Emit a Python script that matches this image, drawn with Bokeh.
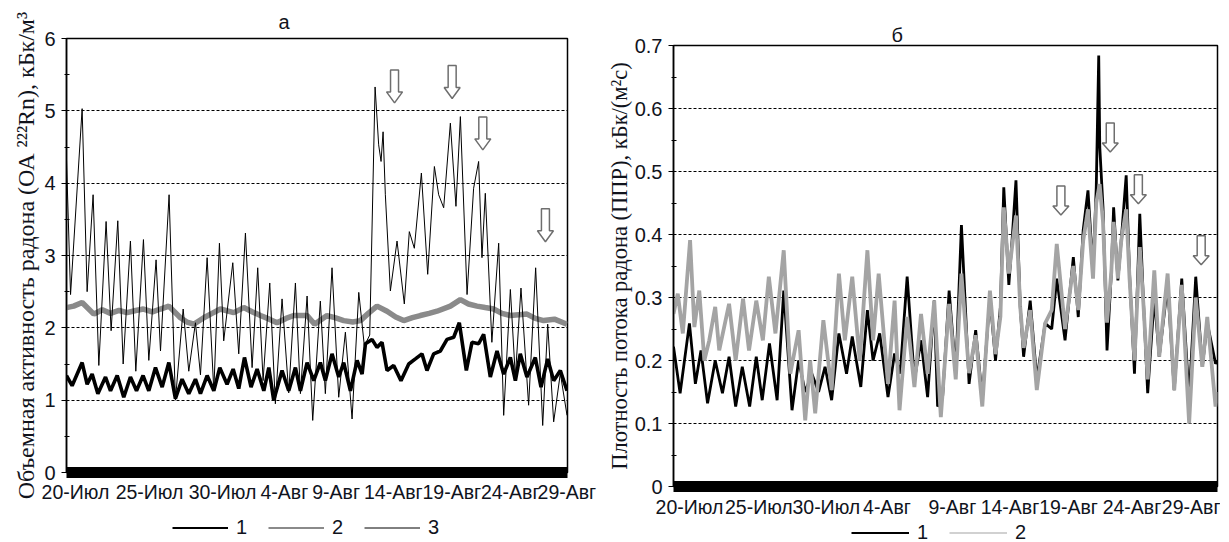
from bokeh.plotting import figure
from bokeh.layouts import row, column
from bokeh.models import FixedTicker, Legend, LegendItem, Title, Spacer
from bokeh.embed import file_html
from bokeh.resources import INLINE

# ---------------- data (days since 20 Jul) ----------------
DAY_LABELS = ["20-Июл", "25-Июл", "30-Июл", "4-Авг", "9-Авг", "14-Авг", "19-Авг", "24-Авг", "29-Авг"]
TICKS_A = [0.75, 6.96, 13.08, 18.27, 22.6, 27.4, 32.3, 37.2, 41.95]
TICKS_B = [1.23, 6.59, 11.8, 16.48, 21.53, 25.98, 30.5, 35.4, 40.08]

# panel а, series 1 (thick black)
A1 = [(0.0, 1.34), (0.47, 1.20), (1.31, 1.52), (1.73, 1.22), (2.15, 1.36), (2.63, 1.09), (3.27, 1.32),
      (3.69, 1.13), (4.25, 1.34), (4.80, 1.04), (5.36, 1.32), (5.87, 1.13), (6.42, 1.34), (6.90, 1.13),
      (7.46, 1.45), (8.02, 1.18), (8.58, 1.52), (9.13, 1.02), (9.69, 1.29), (10.25, 1.09), (10.81, 1.29),
      (11.23, 1.09), (11.79, 1.34), (12.35, 1.13), (12.85, 1.45), (13.46, 1.22), (13.97, 1.43),
      (14.44, 1.16), (14.92, 1.59), (15.47, 1.18), (15.98, 1.43), (16.54, 1.13), (16.96, 1.45),
      (17.37, 1.00), (18.07, 1.41), (18.63, 1.13), (19.19, 1.45), (19.61, 1.13), (20.17, 1.52),
      (20.73, 1.27), (21.28, 1.52), (21.70, 1.27), (22.26, 1.64), (22.82, 1.32), (23.24, 1.52),
      (23.80, 1.13), (24.36, 1.55), (24.78, 1.36), (25.06, 1.78), (25.61, 1.84), (26.03, 1.73),
      (26.45, 1.80), (26.87, 1.41), (27.43, 1.48), (28.04, 1.27), (28.69, 1.50), (29.25, 1.57),
      (29.80, 1.64), (30.22, 1.41), (30.78, 1.64), (31.34, 1.68), (31.90, 1.84), (32.46, 1.87),
      (32.93, 2.07), (33.52, 1.41), (33.99, 1.80), (34.55, 1.78), (34.97, 1.91), (35.53, 1.32),
      (36.09, 1.68), (36.65, 1.36), (37.21, 1.59), (37.63, 1.27), (38.04, 1.64), (38.60, 1.32),
      (39.30, 1.59), (39.78, 1.18), (40.34, 1.57), (40.84, 1.27), (41.40, 1.41), (41.96, 1.13)]

# panel а, series 2 (gray)
A2 = [(0.0, 2.28), (0.6, 2.30), (1.31, 2.35), (2.29, 2.19), (3.0, 2.25), (3.69, 2.20), (4.4, 2.24),
      (5.08, 2.21), (5.8, 2.24), (6.45, 2.26), (7.2, 2.22), (7.88, 2.26), (8.58, 2.30), (9.55, 2.14),
      (10.1, 2.08), (10.67, 2.05), (11.51, 2.14), (12.2, 2.20), (12.9, 2.26), (14.02, 2.21),
      (14.86, 2.28), (15.6, 2.22), (16.26, 2.17), (17.0, 2.12), (17.65, 2.07), (18.4, 2.13),
      (19.05, 2.17), (20.17, 2.17), (20.8, 2.05), (21.84, 2.17), (22.5, 2.14), (23.24, 2.10),
      (24.0, 2.08), (24.64, 2.10), (25.3, 2.20), (26.03, 2.30), (26.87, 2.23), (27.6, 2.15),
      (28.27, 2.10), (29.0, 2.14), (29.66, 2.17), (30.4, 2.20), (31.06, 2.23), (32.18, 2.30),
      (33.02, 2.39), (33.7, 2.33), (34.41, 2.30), (35.1, 2.28), (35.81, 2.26), (36.5, 2.20),
      (37.21, 2.17), (38.60, 2.19), (39.3, 2.13), (40.0, 2.10), (40.9, 2.12), (41.96, 2.05)]

# panel а, series 3 (thin black)
A3 = [(0.0, 4.32), (0.34, 2.46), (1.31, 5.03), (1.73, 2.50), (2.23, 3.84), (2.71, 1.48), (3.32, 3.47),
      (3.74, 1.96), (4.30, 3.48), (4.75, 1.50), (5.36, 3.20), (5.81, 1.40), (6.45, 3.22), (6.90, 1.55),
      (7.51, 2.94), (7.88, 1.68), (8.60, 3.84), (9.13, 1.00), (9.78, 2.26), (10.25, 1.40), (10.81, 2.07),
      (11.23, 1.35), (11.79, 2.97), (12.35, 1.13), (12.82, 3.17), (13.18, 1.82), (13.94, 2.90),
      (14.44, 1.64), (15.0, 3.31), (15.56, 1.45), (16.03, 2.83), (16.48, 1.27), (17.04, 2.62),
      (17.51, 0.95), (18.07, 2.40), (18.63, 1.10), (19.19, 2.62), (19.61, 1.09), (20.17, 2.44),
      (20.64, 0.72), (21.28, 2.37), (21.70, 1.09), (22.26, 2.83), (22.82, 1.04), (23.38, 1.94),
      (23.94, 0.74), (24.50, 2.49), (24.97, 1.75), (25.42, 1.90), (25.87, 5.33), (26.17, 4.53),
      (26.37, 4.30), (26.54, 4.71), (26.73, 3.84), (27.15, 2.51), (27.71, 3.20), (28.32, 2.33),
      (28.74, 3.33), (29.16, 3.10), (29.75, 4.14), (30.28, 2.74), (30.84, 4.23), (31.20, 3.84),
      (31.62, 3.66), (32.18, 4.83), (32.65, 3.68), (33.02, 4.92), (33.58, 2.46), (34.13, 3.93),
      (34.55, 4.30), (34.83, 2.97), (35.11, 3.86), (35.66, 1.80), (36.23, 3.17), (36.65, 0.79),
      (37.21, 2.53), (37.63, 1.32), (38.10, 2.55), (38.74, 0.93), (39.33, 2.83), (39.92, 0.65),
      (40.34, 2.05), (40.84, 0.70), (41.40, 1.37), (41.96, 0.79)]

# panel б, series 1 (black)
B1 = [(0.0, 0.222), (0.51, 0.148), (1.23, 0.259), (1.69, 0.163), (2.12, 0.216), (2.63, 0.132),
      (3.22, 0.200), (3.78, 0.148), (4.29, 0.206), (4.8, 0.127), (5.31, 0.190), (5.88, 0.127),
      (6.39, 0.206), (6.85, 0.137), (7.41, 0.227), (8.0, 0.137), (8.51, 0.311), (9.15, 0.121),
      (9.66, 0.200), (10.17, 0.150), (10.68, 0.179), (11.2, 0.150), (11.7, 0.190), (12.21, 0.137),
      (12.77, 0.243), (13.36, 0.179), (13.8, 0.238), (14.46, 0.158), (14.97, 0.280), (15.41, 0.200),
      (15.92, 0.243), (16.56, 0.142), (17.07, 0.211), (17.5, 0.179), (18.04, 0.333), (18.6, 0.169),
      (19.11, 0.232), (19.62, 0.142), (20.13, 0.295), (20.39, 0.127), (20.77, 0.140), (21.28, 0.311),
      (21.79, 0.179), (22.23, 0.415), (22.82, 0.163), (23.33, 0.248), (23.84, 0.140), (24.43, 0.300),
      (24.86, 0.200), (25.24, 0.285), (25.5, 0.475), (25.89, 0.320), (26.14, 0.391), (26.44, 0.486),
      (26.77, 0.285), (27.03, 0.206), (27.54, 0.295), (28.05, 0.170), (28.69, 0.259), (29.2, 0.250),
      (29.59, 0.330), (30.23, 0.232), (30.87, 0.364), (31.25, 0.269), (31.63, 0.407), (32.0, 0.470),
      (32.39, 0.343), (32.64, 0.475), (32.83, 0.684), (32.91, 0.539), (33.16, 0.443), (33.47, 0.216),
      (33.8, 0.338), (33.98, 0.443), (34.31, 0.327), (34.57, 0.391), (34.95, 0.494), (35.21, 0.338),
      (35.59, 0.179), (36.0, 0.433), (36.28, 0.295), (36.61, 0.148), (37.12, 0.300), (37.5, 0.206),
      (38.15, 0.320), (38.66, 0.153), (39.24, 0.330), (39.81, 0.140), (40.32, 0.333), (40.83, 0.190),
      (41.21, 0.260), (41.85, 0.195), (42.0, 0.200)]

# panel б, series 2 (gray)
B2 = [(0.0, 0.274), (0.33, 0.306), (0.72, 0.243), (1.28, 0.391), (1.61, 0.253), (1.99, 0.311),
      (2.38, 0.200), (2.76, 0.232), (3.22, 0.285), (3.53, 0.216), (4.29, 0.290), (4.8, 0.200),
      (5.37, 0.298), (5.83, 0.216), (6.39, 0.295), (6.9, 0.232), (7.36, 0.333), (7.87, 0.243),
      (8.51, 0.375), (9.02, 0.179), (9.66, 0.248), (10.17, 0.105), (10.55, 0.200), (10.94, 0.116),
      (11.57, 0.264), (12.21, 0.153), (12.77, 0.338), (13.23, 0.232), (13.8, 0.333), (14.38, 0.200),
      (14.97, 0.375), (15.41, 0.232), (15.84, 0.338), (16.56, 0.163), (17.07, 0.295), (17.45, 0.121),
      (18.04, 0.269), (18.6, 0.158), (19.11, 0.274), (19.62, 0.179), (20.13, 0.295), (20.64, 0.110),
      (21.28, 0.290), (21.79, 0.170), (22.23, 0.338), (22.82, 0.180), (23.33, 0.240), (23.84, 0.127),
      (24.43, 0.311), (24.86, 0.210), (25.24, 0.270), (25.5, 0.443), (25.89, 0.338), (26.14, 0.380),
      (26.44, 0.430), (26.77, 0.285), (27.03, 0.220), (27.54, 0.280), (28.05, 0.153), (28.69, 0.259),
      (29.2, 0.280), (29.59, 0.385), (30.23, 0.250), (30.87, 0.350), (31.25, 0.280), (31.63, 0.390),
      (32.0, 0.440), (32.39, 0.330), (32.64, 0.450), (32.9, 0.480), (33.16, 0.420), (33.47, 0.260),
      (33.8, 0.340), (33.98, 0.420), (34.31, 0.330), (34.57, 0.390), (34.95, 0.440), (35.21, 0.330),
      (35.59, 0.200), (36.0, 0.380), (36.28, 0.290), (36.61, 0.170), (37.12, 0.343), (37.5, 0.206),
      (38.15, 0.338), (38.66, 0.153), (39.24, 0.320), (39.81, 0.100), (40.32, 0.300), (40.83, 0.190),
      (41.21, 0.269), (41.85, 0.127), (42.0, 0.150)]

# arrow tips (day, value)
ARROWS_A = [(27.5, 5.11), (32.33, 5.17), (34.9, 4.46), (40.15, 3.19)]
ARROWS_B = [(29.91, 0.431), (33.72, 0.531), (35.89, 0.449), (40.74, 0.352)]

N_DAYS = 42
TXT = "#10131c"
SANS = "Liberation Sans"
SERIF = "Liberation Serif"


def xy(pairs):
    return [p[0] for p in pairs], [p[1] for p in pairs]


def arrow_shapes(tips, fw, fh, ymax, head_h, total_h, head_w=8, shaft_w=4):
    kx = N_DAYS / fw
    ky = ymax / fh
    shape = [(0, 0), (-head_w, head_h), (-shaft_w, head_h), (-shaft_w, total_h),
             (shaft_w, total_h), (shaft_w, head_h), (head_w, head_h)]
    xs, ys = [], []
    for tx, ty in tips:
        xs.append([tx + sx * kx for sx, _ in shape])
        ys.append([ty + sy * ky for _, sy in shape])
    return xs, ys


def make_panel(fw, fh, ymax, yticks, yminor, ticks_x, ylabel, ylabel_size, border, title_txt,
               title_offset, title_standoff, x_standoff):
    p = figure(frame_width=fw, frame_height=fh, x_range=(0, N_DAYS), y_range=(0, ymax),
               min_border_left=border[0], min_border_right=border[1], min_border_top=border[2],
               min_border_bottom=border[3], output_backend="svg", toolbar_location=None,
               background_fill_color="white", border_fill_color="white")
    p.outline_line_color = "black"
    p.outline_line_width = 1.5
    p.xgrid.visible = False
    p.ygrid.grid_line_color = "black"
    p.ygrid.grid_line_dash = "3 2"
    p.ygrid.grid_line_width = 1

    xa = p.xaxis[0]
    xa.ticker = FixedTicker(ticks=ticks_x, minor_ticks=[])
    xa.major_label_overrides = dict(zip(ticks_x, DAY_LABELS))
    xa.axis_line_width = 11
    xa.axis_line_color = "black"
    xa.major_tick_line_color = None
    xa.minor_tick_line_color = None
    xa.major_tick_out = 0
    xa.major_tick_in = 0
    xa.minor_tick_out = 0
    xa.minor_tick_in = 0
    xa.major_label_standoff = x_standoff
    xa.major_label_text_font = SANS
    xa.major_label_text_font_size = "19.5px"
    xa.major_label_text_color = TXT

    ya = p.yaxis[0]
    ya.ticker = FixedTicker(ticks=yticks, minor_ticks=yminor)
    ya.axis_line_width = 1.5
    ya.axis_line_color = "black"
    ya.major_tick_out = 5
    ya.major_tick_in = 0
    ya.minor_tick_out = 2
    ya.minor_tick_in = 3
    ya.major_label_standoff = 6
    ya.major_label_text_font = SANS
    ya.major_label_text_font_size = "20px"
    ya.major_label_text_color = TXT
    ya.axis_label = ylabel
    ya.axis_label_text_font = SERIF
    ya.axis_label_text_font_style = "normal"
    ya.axis_label_text_font_size = ylabel_size
    ya.axis_label_text_color = TXT
    ya.axis_label_standoff = 2

    p.add_layout(Title(text=title_txt, align="left", offset=title_offset, standoff=title_standoff,
                       text_font=SANS, text_font_size="20px", text_font_style="normal",
                       text_color=TXT), "above")
    return p


def legend_strip(width, height, left, specs, glyph_w):
    """A small figure that only holds a horizontal legend (series keys).
    The proxy renderers sit outside the strip's ranges, so only their legend keys show."""
    f = figure(width=width, height=height, x_range=(0, 1), y_range=(0, 1), min_border_left=left,
               min_border_right=0, min_border_top=0, min_border_bottom=0, output_backend="svg",
               toolbar_location=None, background_fill_color="white", border_fill_color="white")
    f.axis.visible = False
    f.grid.visible = False
    f.outline_line_color = None
    items = []
    for label, color, lw in specs:
        r = f.line([2, 3], [2, 2], line_color=color, line_width=lw)
        items.append(LegendItem(label=label, renderers=[r]))
    f.add_layout(Legend(items=items, location="center", orientation="horizontal",
                        glyph_width=glyph_w, glyph_height=18, label_standoff=8, spacing=12,
                        padding=0, margin=0, border_line_color=None, background_fill_alpha=0,
                        label_text_font=SANS, label_text_font_size="20px", label_text_color=TXT,
                        label_height=18))
    return f


# ---------------- panel а ----------------
FW_A, FH_A = 501, 434
pa = make_panel(FW_A, FH_A, 6, [0, 1, 2, 3, 4, 5, 6], [0.5, 1.5, 2.5, 3.5, 4.5, 5.5], TICKS_A,
                "Объемная активность радона (ОА ²²²Rn), кБк/м³", "24px", (66, 36, 38, 0),
                "а", 212, 12, 8)

x, y = xy(A1)
pa.line(x, y, line_color="black", line_width=3.6)
x, y = xy(A2)
pa.line(x, y, line_color="#8a8a8a", line_width=5.5)
x, y = xy(A3)
pa.line(x, y, line_color="black", line_width=1)

axs, ays = arrow_shapes(ARROWS_A, FW_A, FH_A, 6, 11, 33)
pa.patches(axs, ays, fill_color="white", line_color="#6e6e6e", line_width=1.5)

leg_a = legend_strip(590, 44, 0, [("1", "black", 2.2), ("2", "#8a8a8a", 2.2), ("3", "black", 1)], 56)

# ---------------- panel б ----------------
FW_B, FH_B = 544, 441
pb = make_panel(FW_B, FH_B, 0.7, [0, 0.1, 0.2, 0.3, 0.4, 0.5, 0.6, 0.7],
                [0.05, 0.15, 0.25, 0.35, 0.45, 0.55, 0.65], TICKS_B,
                "Плотность потока радона (ППР), кБк/(м²с)", "22.5px", (66, 3, 29, 0),
                "б", 218, 0, 9)
pb.yaxis[0].major_label_overrides = {0: "0"}
pb.yaxis[0].axis_label_standoff = 0

x, y = xy(B1)
pb.line(x, y, line_color="black", line_width=2.8)
x, y = xy(B2)
pb.line(x, y, line_color="#a4a4a4", line_width=3.8)

bxs, bys = arrow_shapes(ARROWS_B, FW_B, FH_B, 0.7, 9, 29)
pb.patches(bxs, bys, fill_color="white", line_color="#6e6e6e", line_width=1.5)

leg_b = legend_strip(613, 24, 66, [("1", "black", 2), ("2", "#a4a4a4", 1.2)], 58)

layout = row(column(pa, leg_a), column(Spacer(height=16, width=10), pb, leg_b))
open("out.html", "w").write(file_html(layout, INLINE))
